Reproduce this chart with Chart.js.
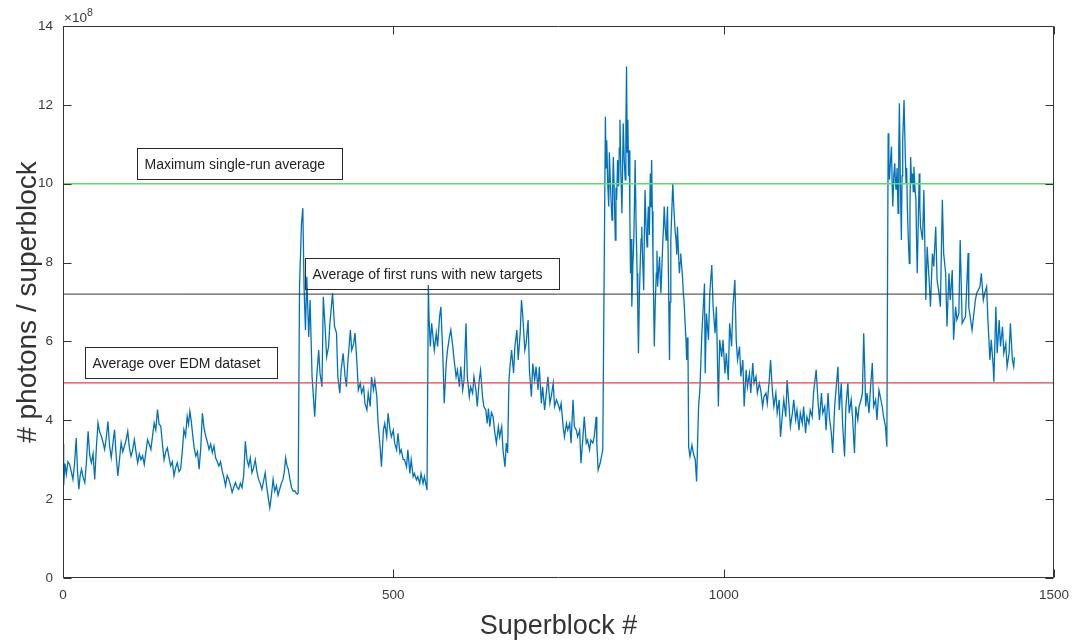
<!DOCTYPE html>
<html>
<head>
<meta charset="utf-8">
<script src="https://cdn.jsdelivr.net/npm/chart.js@4.4.0/dist/chart.umd.min.js"></script>
<style>
  html, body { margin: 0; padding: 0; background: #fff; }
</style>
</head>
<body>
<canvas id="chart" width="1074" height="643"></canvas>
<script>
// photons per superblock, in units of 1e8, as [superblock, value]
const run1 = [[0,3.4],[1,2.35],[3,2.9],[5,2.63],[7.5,2.95],[10,2.88],[12.5,2.7],[15,2.5],[17.5,2.9],[20,3.55],[22,2.7],[24,2.25],[26,2.6],[28,2.76],[30.5,2.55],[33,2.42],[35.5,2.95],[38,3.72],[40.5,3.1],[43,2.92],[45.5,3.15],[48,2.5],[50.5,3.3],[53,3.93],[55.5,3.7],[58,3.6],[60.5,3.45],[63,3.26],[65.5,3.55],[68,3.97],[70.5,3.35],[73,3.05],[75.5,3.4],[78,3.76],[80.5,3.1],[83,2.59],[85.5,3.0],[88,3.43],[90.5,3.2],[93,3.34],[95.5,3.5],[98,3.72],[100.5,3.3],[103,3.09],[105.5,3.25],[108,3.51],[110.5,3.2],[113,2.92],[115.5,3.15],[118,3.0],[120.5,3.1],[123,2.88],[125.5,3.2],[128,3.51],[130.5,3.4],[133,3.26],[135.5,3.6],[138,3.93],[140.5,3.75],[143,4.27],[145.5,3.9],[148,3.85],[150.5,3.4],[153,3.0],[155.5,3.2],[158,3.3],[160.5,3.05],[163,2.84],[165.5,2.95],[168,2.59],[170.5,2.8],[173,2.92],[175.5,2.7],[178,2.76],[180.5,3.2],[183,3.76],[185.5,3.6],[188,4.1],[190,3.9],[192,4.23],[194,4.0],[196,3.68],[198.5,3.3],[201,3.09],[203.5,3.2],[206,2.76],[208.5,3.3],[211,4.18],[213.5,3.8],[216,3.6],[218.5,3.45],[221,3.26],[223.5,3.4],[226,3.18],[228.5,3.35],[231,3.05],[233.5,2.95],[236,2.84],[238.5,2.95],[241,2.71],[243.5,2.55],[246,2.34],[248.5,2.6],[251,2.5],[253.5,2.35],[256,2.17],[258.5,2.3],[261,2.42],[263.5,2.3],[266,2.25],[268.5,2.4],[271,2.29],[273.5,2.6],[276,3.47],[278.5,3.0],[281,2.84],[283.5,3.05],[286,2.67],[288.5,2.8],[291,3.0],[293.5,2.7],[296,2.5],[298.5,2.4],[301,2.25],[303.5,2.45],[306,2.67],[308.5,2.3],[311,2.0],[313,1.78],[315.5,2.1],[318,2.5],[320.5,2.2],[323,2.34],[325.5,2.1],[328,2.25],[330.5,2.4],[333,2.5],[335,2.7],[337,3.05],[339,2.85],[341,2.76],[343.5,2.5],[346,2.29],[348.5,2.2],[351,2.21],[353,2.15],[355,2.13]];
const run2 = [[356,2.16],[358,7.39],[361,9.0],[363,9.38],[365,7.3],[367,6.29],[369,7.64],[372,6.11],[374,7.05],[377,5.1],[379,4.6],[381,4.09],[384,5.1],[387,5.78],[389,5.2],[392,4.85],[394,7.13],[397,6.29],[399,5.61],[402,5.87],[404,6.46],[408,7.22],[411,6.38],[414,6.21],[416,5.1],[419,4.69],[421,5.27],[424,5.7],[427,5.1],[429,4.85],[431,5.44],[435,6.29],[437,5.78],[440,5.95],[442,6.21],[445,5.44],[447,4.77],[450,4.94],[452,4.69],[455,4.85],[457,4.43],[460,4.26],[462,4.69],[465,4.35],[467,5.1],[470,4.77],[472,5.02],[475,4.6],[477,3.92],[480,3.33],[482,2.82],[485,3.75],[487,3.92],[490,3.58],[492,4.18],[495,3.75],[497,3.58],[500,3.75],[502,3.42],[505,3.25],[507,3.67],[510,3.17],[512,3.25],[515,3.0],[517,3.0],[520,2.82],[522,3.25],[525,2.65],[527,3.0],[530,2.57],[532,2.65],[535,2.49],[537,2.57],[540,2.4],[542,2.65],[545,2.4],[547,2.57],[550,2.32],[551,2.23]];
const run3 = [[553,7.43],[554,6.63],[556,5.87],[558,6.46],[560,6.12],[562,5.78],[565,6.21],[567,5.87],[570,6.63],[572,6.88],[575,5.61],[577,4.43],[580,5.44],[582,5.78],[585,6.12],[587,6.29],[590,5.87],[592,5.53],[595,5.1],[597,5.27],[600,4.85],[602,5.36],[605,4.77],[607,5.02],[610,6.46],[612,5.1],[615,4.6],[617,4.85],[620,4.69],[622,5.1],[625,4.77],[627,4.35],[630,5.02],[632,5.27],[635,4.6],[637,4.35],[640,4.26],[642,3.92],[644,4.3],[646,3.84],[648.5,4.2],[651,4.09],[653.5,3.7],[656,3.42],[659,3.84],[661,3.58],[664,3.84],[666,3.25],[669,2.82],[671,3.42],[673,3.17]];
const run4 = [[675,5.02],[677,5.44],[679,5.78],[682,5.2],[684,5.87],[687,6.29],[689,5.53],[692,6.21],[694,7.05],[696,6.63],[699,5.78],[701,5.95],[704,6.54],[706,5.27],[709,4.6],[711,5.44],[714,5.02],[716,5.36],[719,4.77],[721,5.36],[724,4.43],[726,4.85],[729,4.26],[731,4.6],[734,5.1],[737,4.43],[739,4.6],[742,4.94],[744,4.35],[747,4.52],[749,4.43],[752,4.26],[754,4.43],[757,3.84],[759,3.58],[762,3.92],[764,3.75],[767,3.92],[769,3.42],[772,4.52],[774,3.84],[777,3.75],[779,3.58],[782,3.75],[784,2.91],[787,3.58],[789,4.09],[792,3.42],[794,3.5],[797,3.25],[799,3.5],[802,3.42],[804,3.58],[807,4.09],[808,3.42],[810,2.74],[813,2.91],[815,3.08],[817,3.25]];
const run5 = [[821,11.7],[822,10.4],[823,11.1],[824.5,10.0],[826,9.42],[827,10.8],[828,10.26],[829.5,9.6],[831,9.08],[832,9.9],[833,10.68],[834.5,9.7],[836,8.57],[837,9.9],[838,9.59],[839.5,10.6],[841,9.93],[842,10.9],[843,11.62],[844.5,10.2],[846,9.25],[847,10.4],[848,11.53],[849.5,10.6],[851,10.1],[852,11.5],[853,12.97],[854,10.8],[855,11.62],[856,10.2],[857,10.85],[858,9.2],[859,7.73],[860,8.6],[861,6.88],[862.5,7.9],[864,8.57],[865,9.5],[866,10.6],[867.5,8.9],[869,7.73],[870,6.8],[871,5.7],[872.5,7.2],[874,8.15],[875,8.6],[876,8.91],[877.5,8.0],[879,7.3],[880,8.8],[881,9.84],[882.5,8.9],[884,8.4],[885,9.0],[886,9.42],[887.5,8.7],[889,10.26],[890,9.4],[891,10.6],[892,9.3],[893,8.15],[894,7.0],[895,5.87],[896.5,7.0],[898,7.73],[899,8.3],[900,7.39],[901.5,7.8],[903,8.15],[904,7.6],[905,7.22],[906.5,7.9],[908,8.57],[909,8.9],[910,9.42],[911.5,8.9],[913,8.57],[914,9.0],[915,9.42],[916.5,7.6],[918,5.53],[919,7.0],[920,8.57],[921.5,9.3],[923,10.01],[924,9.6],[925,9.25],[926.5,8.8],[928,8.57],[929,8.2],[930,8.91],[931.5,8.3],[933,7.73],[934,8.0],[935,8.23],[936.5,7.9],[938,7.56],[939,7.2],[940,7.05],[941.5,6.5],[943,6.04],[944,5.53],[945,6.1],[946,5.78]];
const run6 = [[947,3.33],[949,3.08],[952,3.37],[954,3.17],[957,3.0],[959,2.45],[962,4.35],[964,4.77],[967,6.2],[971,7.47],[972,5.19],[974,6.71],[977,6.04],[979,7.22],[982,7.94],[984,6.88],[987,6.21],[989,6.88],[992,4.35],[994,6.04],[997,5.61],[999,6.04],[1002,5.19],[1004,5.7],[1007,5.02],[1009,6.46],[1012,5.87],[1014,6.88],[1017,7.56],[1019,6.04],[1021,5.53],[1024,5.87],[1026,5.11],[1029,5.53],[1031,4.35],[1034,5.28],[1036,4.85],[1039,5.19],[1041,4.69],[1044,5.45],[1046,4.94],[1049,5.11],[1051,4.69],[1054,4.94],[1056,4.77],[1059,4.35],[1061,4.6],[1064,4.69],[1066,4.43],[1069,5.02],[1071,5.53],[1074,4.69],[1076,4.35],[1079,4.69],[1081,4.18],[1084,4.52],[1086,3.58],[1089,4.18],[1091,4.52],[1094,4.09],[1096,5.02],[1099,4.35],[1101,3.84],[1104,4.18],[1106,4.52],[1109,4.01],[1111,4.26],[1114,3.75],[1116,4.18],[1119,3.92],[1121,4.35],[1124,3.67],[1126,4.09],[1129,3.92],[1131,4.26],[1134,4.09],[1136,4.69],[1140,5.28],[1143,4.43],[1145,4.01],[1148,4.69],[1150,4.18],[1153,4.35],[1155,3.75],[1158,4.69],[1160,4.09],[1163,3.67],[1165,3.17],[1168,4.35],[1170,4.77],[1173,5.36],[1175,4.26],[1178,4.94],[1180,3.92],[1183,3.08],[1185,4.35],[1188,4.94],[1190,4.18],[1193,4.52],[1195,4.09],[1198,3.17],[1200,4.35],[1203,4.01],[1205,4.35],[1208,4.52],[1210,4.69],[1212,6.21],[1215,4.35],[1217,4.69],[1220,4.18],[1222,4.77],[1225,5.45],[1227,4.35],[1230,4.52],[1232,4.01],[1235,4.77],[1237,4.6],[1240,4.35],[1242,4.09],[1245,3.84],[1247,3.33]];
const run7 = [[1249,11.28],[1250,10.5],[1251,10.1],[1252.5,10.6],[1254,10.94],[1255,10.0],[1256,9.42],[1257.5,10.2],[1259,10.52],[1260,10.0],[1261,9.84],[1262.5,10.4],[1264,9.25],[1265,10.8],[1266,12.04],[1267.5,10.0],[1269,8.57],[1270,10.2],[1271,11.1],[1272,11.6],[1273,12.12],[1274.5,11.0],[1276,10.01],[1277,10.4],[1278,9.42],[1279.5,8.6],[1281,7.98],[1282,9.4],[1283,10.68],[1284.5,10.0],[1286,10.26],[1287,9.8],[1288,10.43],[1289.5,9.9],[1291,9.59],[1292,8.5],[1293,7.73],[1294.5,9.0],[1296,10.26],[1297,9.4],[1298,8.91],[1301,8.57],[1303,9.84],[1306,7.05],[1308,8.4],[1311,7.56],[1313,6.88],[1316,8.23],[1318,7.9],[1321,8.91],[1323,7.56],[1326,7.22],[1328,6.88],[1331,9.59],[1333,8.23],[1336,7.73],[1338,6.38],[1341,7.73],[1343,7.05],[1346,7.81],[1348,6.04],[1351,6.88],[1353,6.55],[1356,6.71],[1358,8.57],[1361,6.46],[1366,6.63],[1370,8.24],[1371,6.88],[1376,6.29],[1381,7.05],[1383,7.22],[1388,7.39],[1390,7.73],[1393,7.05],[1395,7.22],[1398,7.39],[1400,6.54],[1403,5.53],[1405,6.04],[1408,5.36],[1409,4.98],[1412,6.88],[1414,5.7],[1417,6.54],[1419,5.87],[1422,6.37],[1424,5.7],[1427,5.95],[1429,5.36],[1432,5.7],[1434,6.46],[1437,5.53],[1439,5.36],[1440,5.6]];

// reference averages (1e8)
const avgLabels = ['Maximum single-run average', 'Average of first runs with new targets', 'Average over EDM dataset'];
const avgValues = [10.0, 7.2, 4.95];
const avgColors = ['#5fdc5f', '#333333', '#e6404c'];

const xTicks = [0, 500, 1000, 1500];
const yTicks = [0, 2, 4, 6, 8, 10, 12, 14];

const FONT = "'Liberation Sans', Arial, Helvetica, sans-serif";
const AXIS_COLOR = '#333333';
const TEXT_COLOR = '#3a3a3a';

const photons = [].concat(run1, run2, run3, run4, run5, run6, run7).map(([sb, v]) => ({x: sb, y: v}));

const refSets = avgValues.map((v, i) => ({
    label: avgLabels[i],
    data: [{x: xTicks[0], y: v}, {x: xTicks[xTicks.length - 1], y: v}],
    borderColor: avgColors[i],
    borderWidth: i === 1 ? 1 : 1.4,
    pointRadius: 0,
    order: 0
}));

// text boxes anchored in data units (left, top)
const notes = [
    {text: avgLabels[0], x: 112, y: 10.9},
    {text: avgLabels[1], x: 366, y: 8.12},
    {text: avgLabels[2], x: 33, y: 5.86}
];

const matlabAxes = {
    id: 'matlabAxes',
    afterDatasetsDraw(chart) {
        const {ctx, chartArea: a, scales: {x, y}} = chart;
        ctx.save();
        ctx.strokeStyle = AXIS_COLOR;
        ctx.lineWidth = 1;
        const L = Math.round(a.left) + 0.5, R = Math.round(a.right) - 0.5;
        const T = Math.round(a.top) + 0.5, B = Math.round(a.bottom) - 0.5;
        ctx.beginPath();
        ctx.rect(L, T, R - L, B - T);
        yTicks.forEach(v => {
            const p = Math.round(y.getPixelForValue(v)) + 0.5;
            ctx.moveTo(L, p); ctx.lineTo(L + 8, p);
            ctx.moveTo(R, p); ctx.lineTo(R - 8, p);
        });
        xTicks.forEach(v => {
            const p = Math.round(x.getPixelForValue(v)) + 0.5;
            ctx.moveTo(p, B); ctx.lineTo(p, B - 8);
            ctx.moveTo(p, T); ctx.lineTo(p, T + 8);
        });
        ctx.stroke();

        // annotation boxes
        ctx.font = '14px ' + FONT;
        ctx.textBaseline = 'middle';
        ctx.textAlign = 'left';
        notes.forEach(n => {
            const px = Math.round(x.getPixelForValue(n.x)) + 0.5;
            const py = Math.round(y.getPixelForValue(n.y)) + 0.5;
            const w = Math.round(ctx.measureText(n.text).width) + 24;
            const h = 31;
            ctx.strokeStyle = '#2a2a2a';
            ctx.strokeRect(px, py, w, h);
            ctx.fillStyle = '#222222';
            ctx.fillText(n.text, px + 7, py + h / 2 + 1);
        });

        // exponent label
        ctx.fillStyle = TEXT_COLOR;
        ctx.textBaseline = 'alphabetic';
        ctx.font = '13.5px ' + FONT;
        ctx.fillText('×10', 64, 22);
        ctx.font = '10.5px ' + FONT;
        ctx.fillText('8', 87, 16);
        ctx.restore();
    }
};

new Chart(document.getElementById('chart'), {
    type: 'line',
    data: {
        datasets: [
            ...refSets,
            {
                label: 'photons',
                data: photons,
                borderColor: '#0072BD',
                borderWidth: 1.3,
                pointRadius: 0,
                tension: 0,
                order: 10
            }
        ]
    },
    options: {
        responsive: false,
        animation: false,
        layout: {padding: {top: 26, right: 20, left: 0, bottom: 0}},
        plugins: {legend: {display: false}, tooltip: {enabled: false}},
        scales: {
            x: {
                type: 'linear',
                min: xTicks[0],
                max: xTicks[xTicks.length - 1],
                afterBuildTicks: s => { s.ticks = xTicks.map(v => ({value: v})); },
                afterFit: s => { s.height = 65; s.paddingRight = 0; s.paddingLeft = 0; },
                grid: {display: false, drawTicks: false},
                border: {display: false},
                ticks: {
                    padding: 9,
                    color: TEXT_COLOR,
                    font: {family: FONT, size: 13.5},
                    maxRotation: 0,
                    callback: v => String(v)
                },
                title: {
                    display: true,
                    text: 'Superblock #',
                    color: '#333333',
                    font: {family: FONT, size: 27},
                    padding: {top: 0, bottom: 0}
                }
            },
            y: {
                type: 'linear',
                min: yTicks[0],
                max: yTicks[yTicks.length - 1],
                afterBuildTicks: s => { s.ticks = yTicks.map(v => ({value: v})); },
                afterFit: s => { s.width = 63; },
                grid: {display: false, drawTicks: false},
                border: {display: false},
                ticks: {
                    padding: 10,
                    color: TEXT_COLOR,
                    font: {family: FONT, size: 13.5},
                    callback: v => String(v)
                },
                title: {
                    display: true,
                    text: '# photons / superblock',
                    color: '#333333',
                    font: {family: FONT, size: 28},
                    padding: {top: 11, bottom: 0}
                }
            }
        }
    },
    plugins: [matlabAxes]
});
</script>
</body>
</html>
